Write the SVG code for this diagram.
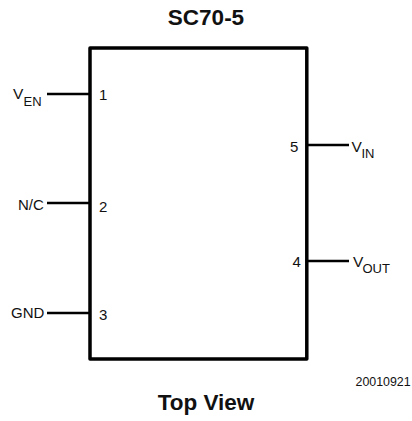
<svg xmlns="http://www.w3.org/2000/svg" width="412" height="421" viewBox="0 0 412 421">
<style>
text{font-family:"Liberation Sans",Arial,sans-serif;fill:#111}
.t{font-size:22.500px;font-weight:700;text-anchor:middle}
.l{font-size:15px}
.v{font-size:15.500px}
.s{font-size:13px}
.n{font-size:12.400px}
.c{stroke:#000;stroke-width:2.500;fill:none}
</style>
<rect width="412" height="421" fill="#fff"/>
<text class="t" x="206" y="25">SC70-5</text>
<g id="chip"><rect x="90" y="48" width="216.800" height="311" fill="none" stroke="#000" stroke-width="3.500" stroke-linejoin="round"/></g>
<g id="connectors">
<line class="c" x1="47" y1="94" x2="90" y2="94"/>
<line class="c" x1="47" y1="203" x2="90" y2="203"/>
<line class="c" x1="47" y1="313" x2="90" y2="313"/>
<line class="c" x1="307" y1="145" x2="349" y2="145"/>
<line class="c" x1="307" y1="261" x2="349" y2="261"/>
</g>
<g id="pin1"><text class="v" x="13" y="99">V</text><text class="s" x="23.500" y="106">EN</text><text class="l" x="99" y="100">1</text></g>
<g id="pin2"><text class="l" x="18" y="209.500">N/C</text><text class="l" x="99" y="212">2</text></g>
<g id="pin3"><text class="l" x="11" y="317.500">GND</text><text class="l" x="99" y="319.500">3</text></g>
<g id="pin5"><text class="v" x="351.500" y="151.500">V</text><text class="s" x="361.500" y="158.300">IN</text><text class="l" x="290" y="151.500">5</text></g>
<g id="pin4"><text class="v" x="353" y="266.500">V</text><text class="s" x="362.500" y="273.300">OUT</text><text class="l" x="292.500" y="266.500">4</text></g>
<text class="n" x="355.500" y="386">20010921</text>
<text class="t" x="206" y="410">Top View</text>
</svg>
